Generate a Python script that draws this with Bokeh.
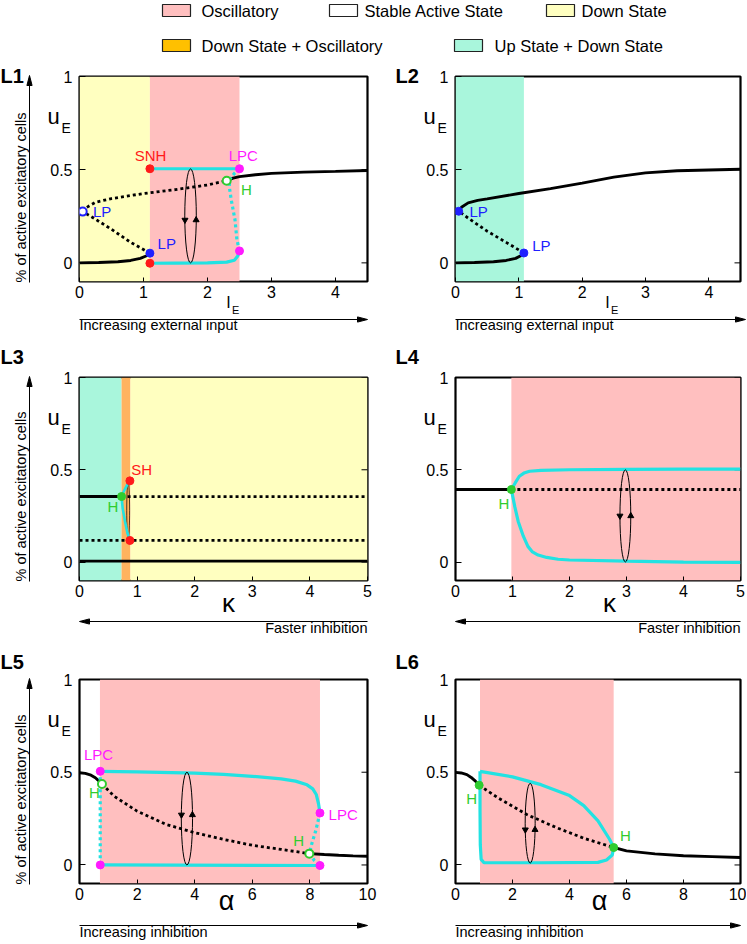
import numpy as np
from bokeh.plotting import figure
from bokeh.models import Range1d, FixedTicker, BoxAnnotation, NumeralTickFormatter
from bokeh.layouts import column, row
from bokeh.embed import file_html
from bokeh.resources import INLINE
from bokeh.core.properties import value

FONT = "Liberation Sans"
C_OSC = "#ffbfbf"
C_STABLE = "#ffffff"
C_DOWN = "#ffffc0"
C_DOWNOSC = "#ffc000"
C_UPDOWN = "#a9f6dc"
C_BAND_OR = "#ffb35f"
C_CYAN = "#22e2e2"
C_RED = "#ff1a1a"
C_MAG = "#ff1aff"
C_BLUE = "#2020ff"
C_HG = "#2fcc2f"

# ---------------- legend ----------------
legend_labels = ["Oscillatory", "Stable Active State", "Down State",
                 "Down State + Oscillatory", "Up State + Down State"]
legend_colors = [C_OSC, C_STABLE, C_DOWN, C_DOWNOSC, C_UPDOWN]

# ---------------- L1 data (I_E) ----------------
L1_xticks = [0, 1, 2, 3, 4]
L1_regions = [(0.0, 1.1, C_DOWN), (1.1, 2.5, C_OSC)]
L1_low_x = [0, 0.3, 0.6, 0.8, 0.95, 1.05, 1.1]
L1_low_y = [0.0, 0.002, 0.006, 0.013, 0.024, 0.038, 0.052]
L1_mid_x = [1.1, 0.8, 0.5, 0.2, 0.05]
L1_mid_y = [0.052, 0.11, 0.18, 0.245, 0.275]
L1_updot_x = [0.05, 0.1, 0.25, 0.5, 1.0, 1.5, 2.0, 2.3]
L1_updot_y = [0.275, 0.295, 0.325, 0.345, 0.372, 0.393, 0.418, 0.441]
L1_up_x = [2.3, 2.4, 2.5, 2.75, 3.0, 3.5, 4.0, 4.5]
L1_up_y = [0.441, 0.455, 0.463, 0.473, 0.48, 0.487, 0.491, 0.496]
L1_cyc_top_x = [1.1, 2.5]
L1_cyc_top_y = [0.505, 0.505]
L1_cyc_bot_x = [1.1, 1.5, 2.0, 2.3, 2.42, 2.47, 2.5]
L1_cyc_bot_y = [-0.002, -0.001, 0.0, 0.004, 0.014, 0.035, 0.064]
L1_cyc_dot_x = [2.5, 2.42, 2.35, 2.34, 2.37, 2.43, 2.46, 2.5]
L1_cyc_dot_y = [0.505, 0.48, 0.45, 0.41, 0.34, 0.23, 0.123, 0.064]
L1_snh_x, L1_snh_y = [1.1, 1.1], [0.505, -0.002]
L1_lpc_x, L1_lpc_y = [2.5, 2.5], [0.505, 0.064]
L1_lp_x, L1_lp_y = [1.1], [0.052]
L1_lpo_x, L1_lpo_y = [0.05], [0.275]
L1_h_x, L1_h_y = [2.3], [0.441]

# ---------------- L2 data (I_E) ----------------
L2_xticks = [0, 1, 2, 3, 4]
L2_regions = [(0.0, 1.08, C_UPDOWN)]
L2_low_x = [0, 0.3, 0.6, 0.8, 0.95, 1.03, 1.08]
L2_low_y = [0.0, 0.002, 0.006, 0.013, 0.024, 0.038, 0.053]
L2_mid_x = [1.08, 0.8, 0.5, 0.2, 0.05]
L2_mid_y = [0.053, 0.11, 0.17, 0.24, 0.277]
L2_up_x = [0.05, 0.1, 0.2, 0.35, 0.5, 1.0, 1.5, 2.0, 2.5, 3.0, 3.5, 4.0, 4.5]
L2_up_y = [0.277, 0.3, 0.322, 0.335, 0.343, 0.372, 0.398, 0.428, 0.46, 0.483, 0.494, 0.498, 0.502]
L2_lp_x, L2_lp_y = [0.05, 1.08], [0.277, 0.053]

# ---------------- L3 data (kappa) ----------------
L3_xticks = [0, 1, 2, 3, 4, 5]
L3_regions = [(0.0, 0.73, C_UPDOWN), (0.73, 0.885, C_BAND_OR), (0.885, 5.0, C_DOWN)]
L3_upsolid_x, L3_upsolid_y = [0, 0.73], [0.355, 0.355]
L3_updot_x, L3_updot_y = [0.73, 5], [0.355, 0.355]
L3_middot_x, L3_middot_y = [0, 5], [0.117, 0.117]
L3_low_x, L3_low_y = [0, 5], [0.005, 0.005]
L3_cyc_x = [0.875, 0.83, 0.78, 0.73, 0.75, 0.79, 0.83, 0.875]
L3_cyc_y = [0.44, 0.42, 0.39, 0.355, 0.29, 0.22, 0.16, 0.117]
L3_h_x, L3_h_y = [0.73], [0.355]
L3_sh_x, L3_sh_y = [0.875, 0.875], [0.44, 0.117]

# ---------------- L4 data (kappa) ----------------
L4_xticks = [0, 1, 2, 3, 4, 5]
L4_regions = [(0.98, 5.0, C_OSC)]
L4_solid_x, L4_solid_y = [0, 0.98], [0.393, 0.393]
L4_dot_x, L4_dot_y = [0.98, 5], [0.393, 0.393]
L4_cyc_top_x = [0.98, 1.05, 1.12, 1.2, 1.3, 1.5, 2.0, 3.0, 4.0, 5.0]
L4_cyc_top_y = [0.393, 0.43, 0.465, 0.482, 0.492, 0.497, 0.5, 0.502, 0.503, 0.504]
L4_cyc_bot_x = [0.98, 1.04, 1.1, 1.19, 1.27, 1.35, 1.45, 1.6, 1.8, 2.0, 3.0, 4.0, 5.0]
L4_cyc_bot_y = [0.393, 0.30, 0.22, 0.14, 0.085, 0.055, 0.038, 0.025, 0.015, 0.011, 0.005, 0.0, -0.002]
L4_h_x, L4_h_y = [0.98], [0.393]

# ---------------- L5 data (alpha) ----------------
L5_xticks = [0, 2, 4, 6, 8, 10]
L5_regions = [(0.71, 8.35, C_OSC)]
L5_s1_x = [0, 0.2, 0.4, 0.55, 0.68, 0.78]
L5_s1_y = [0.497, 0.494, 0.484, 0.47, 0.452, 0.437]
L5_dot_x = [0.78, 1.2, 2, 3, 4, 5, 6, 7, 7.98]
L5_dot_y = [0.437, 0.371, 0.29, 0.219, 0.174, 0.138, 0.106, 0.084, 0.061]
L5_s2_x = [7.98, 8.5, 9, 9.5, 10]
L5_s2_y = [0.061, 0.056, 0.052, 0.049, 0.047]
L5_cyc_top_x = [0.72, 2, 4, 5, 6, 7, 7.5, 7.9, 8.1, 8.22, 8.3, 8.35]
L5_cyc_top_y = [0.505, 0.502, 0.495, 0.488, 0.478, 0.464, 0.452, 0.432, 0.41, 0.38, 0.33, 0.28]
L5_cyc_rdot_x = [8.35, 8.2, 8.06, 7.98, 8.15, 8.35]
L5_cyc_rdot_y = [0.28, 0.183, 0.111, 0.061, 0.025, -0.003]
L5_cyc_ldot_x, L5_cyc_ldot_y = [0.72, 0.72], [0.505, 0.0]
L5_cyc_bot_x, L5_cyc_bot_y = [0.72, 8.35], [0.0, -0.003]
L5_lpc_x, L5_lpc_y = [0.72, 0.72, 8.35, 8.35], [0.505, 0.0, 0.28, -0.003]
L5_h_x, L5_h_y = [0.78, 7.98], [0.437, 0.061]

# ---------------- L6 data (alpha) ----------------
L6_xticks = [0, 2, 4, 6, 8, 10]
L6_regions = [(0.86, 5.55, C_OSC)]
L6_s1_x = [0, 0.2, 0.4, 0.55, 0.7, 0.83]
L6_s1_y = [0.499, 0.496, 0.487, 0.472, 0.452, 0.43]
L6_dot_x = [0.83, 1.5, 2.5, 3.5, 4.5, 5.55]
L6_dot_y = [0.43, 0.361, 0.272, 0.204, 0.144, 0.094]
L6_s2_x = [5.55, 6, 7, 8, 9, 10]
L6_s2_y = [0.094, 0.076, 0.06, 0.05, 0.045, 0.04]
L6_cyc_x = [0.86, 2.0, 3.0, 4.0, 4.5, 5.0, 5.4, 5.55, 5.5, 5.3, 5.0, 3.0, 1.0, 0.9, 0.87, 0.86, 0.86]
L6_cyc_y = [0.505, 0.475, 0.433, 0.374, 0.32, 0.238, 0.14, 0.094, 0.054, 0.027, 0.014, 0.012, 0.012, 0.03, 0.108, 0.3, 0.505]
L6_h_x, L6_h_y = [0.83, 5.55], [0.43, 0.094]

YR = (-0.1, 1.0)
YTICKS = [0, 0.5, 1]

# ---------------- layout geometry (pixels) ----------------
LEFT = dict(bl=79, fw=288, br=21, tag_dx=-79)
RIGHT = dict(bl=67, fw=285, br=6, tag_dx=-60)
ROW1 = dict(bt=20, fh=205, bb=57, tag_dy=6)
ROW2 = dict(bt=39, fh=203, bb=60, tag_dy=-14)
ROW3 = dict(bt=39, fh=204, bb=60, tag_dy=-11)

TAG_SHIFT = 0.35 * 15 * (YR[1] - YR[0]) / 204.0   # baseline -> middle anchor for 15px point tags
W_SOLID, W_DOT, W_CYAN = 2.9, 2.8, 3.2


def make_panel(col, rw, xr, xticks, tag, left_col, kind):
    fw, fh = col["fw"], rw["fh"]
    p = figure(width=col["bl"] + fw + col["br"], height=rw["bt"] + fh + rw["bb"],
               x_range=Range1d(*xr), y_range=Range1d(*YR),
               output_backend="svg", toolbar_location=None, tools="",
               min_border_left=col["bl"], min_border_right=col["br"],
               min_border_top=rw["bt"], min_border_bottom=rw["bb"])
    p.xgrid.visible = False
    p.ygrid.visible = False
    p.outline_line_color = "black"
    p.outline_line_width = 2.2
    p.outline_line_alpha = 1.0
    p.border_fill_color = "white"
    p.background_fill_color = "white"

    xa = p.xaxis[0]
    xa.ticker = FixedTicker(ticks=xticks)
    xa.axis_line_color = None
    xa.major_tick_in = 4
    xa.major_tick_out = 0
    xa.minor_tick_line_color = None
    xa.major_tick_line_color = "black"
    xa.major_label_text_font = FONT
    xa.major_label_text_font_size = "16px"
    xa.major_label_text_color = "black"
    xa.major_label_standoff = 4

    ya = p.yaxis[0]
    ya.ticker = FixedTicker(ticks=YTICKS)
    ya.formatter = NumeralTickFormatter(format="0.[0]")
    ya.axis_line_color = None
    ya.major_tick_in = 6
    ya.major_tick_out = 0
    ya.minor_tick_line_color = None
    ya.major_tick_line_color = "black"
    ya.major_label_text_font = FONT
    ya.major_label_text_font_size = "16px"
    ya.major_label_text_color = "black"
    ya.major_label_standoff = 7

    # inward ticks on the right edge (outer half of each dash is clipped by the frame)
    p.scatter([xr[1]] * len(YTICKS), YTICKS, marker="dash", size=12,
              line_color="black", line_width=1)

    def D(dx, dy):
        return (xr[0] + dx / fw * (xr[1] - xr[0]), YR[1] - dy / fh * (YR[1] - YR[0]))

    def lab(dx, dy, text, size, align="left", style="normal", angle=0.0, middle=False):
        dyc = dy if middle else dy - 0.35 * size   # dy given as baseline
        x, y = D(dx, dyc)
        p.text(x=[x], y=[y], text=[text], text_font=value(FONT), text_font_size=value(f"{size}px"),
               text_align=align, text_baseline="middle", text_font_style=style,
               angle=angle, text_color="black", level="overlay")

    def arr(dx0, dy0, dx1, dy1, L=10.0, W=2.6):
        ux, uy = dx1 - dx0, dy1 - dy0
        n = float(np.hypot(ux, uy))
        ux, uy = ux / n, uy / n
        bx, by = dx1 - L * ux, dy1 - L * uy
        qx, qy = -uy, ux
        x0, y0 = D(dx0, dy0)
        xb, yb = D(bx, by)
        p.line([x0, xb], [y0, yb], line_color="black", line_width=1, level="overlay")
        pts = [D(dx1, dy1), D(bx + W * qx, by + W * qy), D(bx - W * qx, by - W * qy)]
        p.patch([q[0] for q in pts], [q[1] for q in pts], fill_color="black",
                line_color="black", line_width=1, level="overlay")

    lab(col["tag_dx"], rw["tag_dy"], tag, 20, style="bold")
    lab(-32, 48, "u", 22)
    lab(-18, 56, "E", 14)
    if left_col:
        lab(-59, fh + 1, "% of active excitatory cells", 14.5, align="left",
            angle=np.pi / 2, middle=True)
        arr(-50, fh + 1, -50, -1)
    if kind == "I":
        cx = 149 if left_col else 152
        lab(cx, fh + 27, "I", 16, align="center")
        lab(cx + 3.5, fh + 32, "E", 11)
        arr(0, fh + 38, fw + (0 if left_col else 5), fh + 38)
        lab(0, fh + 49, "Increasing external input", 14.5)
    elif kind == "k":
        lab(149 if left_col else 154, fh + 32, "\u03ba", 26, align="center")
        arr(fw, fh + 41, 0, fh + 41)
        lab(fw, fh + 53, "Faster inhibition", 14.5, align="right")
    else:
        lab(147 if left_col else 144, fh + 27, "\u03b1", 27, align="center")
        arr(0, fh + 42, fw, fh + 42)
        lab(0, fh + 54, "Increasing inhibition", 14.5)
    return p


def shade(p, regions):
    for a, b, c in regions:
        p.add_layout(BoxAnnotation(left=a, right=b, fill_color=c, fill_alpha=1.0,
                                   line_color=None, level="underlay"))


def solid(p, x, y, color="black", w=W_SOLID):
    p.line(x, y, line_color=color, line_width=w)


def dotted(p, x, y, color="black", w=W_DOT):
    p.line(x, y, line_color=color, line_width=w, line_dash="3 3")


def dots(p, x, y, color, hollow=False):
    p.scatter(x, y, size=8, fill_color="white" if hollow else color,
              line_color=color, line_width=2 if hollow else 1)


def tag(p, x, y, text, color, align="center"):
    # y is the text baseline in data units
    p.text(x=[x], y=[y + TAG_SHIFT], text=[text], text_color=color, text_font=value(FONT),
           text_font_size=value("15px"), text_align=align, text_baseline="middle",
           level="overlay")


def cycle(p, cx, cy, w, h, ax, ay):
    p.ellipse(x=[cx], y=[cy], width=[w], height=[h], fill_color=None,
              line_color="black", line_width=1)
    p.scatter(ax, ay, marker="triangle", size=6, angle=[np.pi, 0.0],
              fill_color="black", line_color="black")


# ---------------- L1 ----------------
p1 = make_panel(LEFT, ROW1, (0, 4.5), L1_xticks, "L1", True, "I")
shade(p1, L1_regions)
solid(p1, L1_low_x, L1_low_y)
dotted(p1, L1_mid_x, L1_mid_y)
dotted(p1, L1_updot_x, L1_updot_y)
solid(p1, L1_up_x, L1_up_y)
solid(p1, L1_cyc_top_x, L1_cyc_top_y, C_CYAN, W_CYAN)
solid(p1, L1_cyc_bot_x, L1_cyc_bot_y, C_CYAN, W_CYAN)
dotted(p1, L1_cyc_dot_x, L1_cyc_dot_y, C_CYAN, W_CYAN)
cycle(p1, 1.735, 0.252, 0.18, 0.505, [1.648, 1.822], [0.23, 0.23])
dots(p1, L1_snh_x, L1_snh_y, C_RED)
dots(p1, L1_lpc_x, L1_lpc_y, C_MAG)
dots(p1, L1_lp_x, L1_lp_y, C_BLUE)
dots(p1, L1_lpo_x, L1_lpo_y, C_BLUE, hollow=True)
dots(p1, L1_h_x, L1_h_y, C_HG, hollow=True)
tag(p1, 1.11, 0.55, "SNH", C_RED)
tag(p1, 2.56, 0.55, "LPC", C_MAG)
tag(p1, 2.61, 0.364, "H", C_HG)
tag(p1, 0.21, 0.248, "LP", C_BLUE, "left")
tag(p1, 1.22, 0.074, "LP", C_BLUE, "left")

# ---------------- L2 ----------------
p2 = make_panel(RIGHT, ROW1, (0, 4.5), L2_xticks, "L2", False, "I")
shade(p2, L2_regions)
solid(p2, L2_low_x, L2_low_y)
dotted(p2, L2_mid_x, L2_mid_y)
solid(p2, L2_up_x, L2_up_y)
dots(p2, L2_lp_x, L2_lp_y, C_BLUE)
tag(p2, 0.22, 0.246, "LP", C_BLUE, "left")
tag(p2, 1.21, 0.065, "LP", C_BLUE, "left")

# ---------------- L3 ----------------
p3 = make_panel(LEFT, ROW2, (0, 5), L3_xticks, "L3", True, "k")
shade(p3, L3_regions)
solid(p3, L3_upsolid_x, L3_upsolid_y)
dotted(p3, L3_updot_x, L3_updot_y)
dotted(p3, L3_middot_x, L3_middot_y)
solid(p3, L3_low_x, L3_low_y)
p3.ellipse(x=[0.845], y=[0.28], width=[0.05], height=[0.3], fill_color=None,
           line_color="black", line_width=0.7)
solid(p3, L3_cyc_x, L3_cyc_y, C_CYAN, 2.6)
dots(p3, L3_h_x, L3_h_y, C_HG)
dots(p3, L3_sh_x, L3_sh_y, C_RED)
tag(p3, 0.9, 0.473, "SH", C_RED, "left")
tag(p3, 0.58, 0.27, "H", C_HG)

# ---------------- L4 ----------------
p4 = make_panel(RIGHT, ROW2, (0, 5), L4_xticks, "L4", False, "k")
shade(p4, L4_regions)
solid(p4, L4_solid_x, L4_solid_y)
dotted(p4, L4_dot_x, L4_dot_y)
solid(p4, L4_cyc_top_x, L4_cyc_top_y, C_CYAN, W_CYAN)
solid(p4, L4_cyc_bot_x, L4_cyc_bot_y, C_CYAN, W_CYAN)
cycle(p4, 2.98, 0.25, 0.19, 0.5, [2.885, 3.075], [0.25, 0.25])
dots(p4, L4_h_x, L4_h_y, C_HG)
tag(p4, 0.85, 0.29, "H", C_HG)

# ---------------- L5 ----------------
p5 = make_panel(LEFT, ROW3, (0, 10), L5_xticks, "L5", True, "a")
shade(p5, L5_regions)
solid(p5, L5_s1_x, L5_s1_y)
dotted(p5, L5_dot_x, L5_dot_y)
solid(p5, L5_s2_x, L5_s2_y)
solid(p5, L5_cyc_top_x, L5_cyc_top_y, C_CYAN, W_CYAN)
solid(p5, L5_cyc_bot_x, L5_cyc_bot_y, C_CYAN, W_CYAN)
dotted(p5, L5_cyc_rdot_x, L5_cyc_rdot_y, C_CYAN, W_CYAN)
dotted(p5, L5_cyc_ldot_x, L5_cyc_ldot_y, C_CYAN, W_CYAN)
cycle(p5, 3.73, 0.25, 0.39, 0.5, [3.54, 3.92], [0.27, 0.27])
dots(p5, L5_lpc_x, L5_lpc_y, C_MAG)
dots(p5, L5_h_x, L5_h_y, C_HG, hollow=True)
tag(p5, 0.66, 0.565, "LPC", C_MAG)
tag(p5, 0.52, 0.362, "H", C_HG)
tag(p5, 8.65, 0.246, "LPC", C_MAG, "left")
tag(p5, 7.61, 0.102, "H", C_HG)

# ---------------- L6 ----------------
p6 = make_panel(RIGHT, ROW3, (0, 10), L6_xticks, "L6", False, "a")
shade(p6, L6_regions)
solid(p6, L6_s1_x, L6_s1_y)
dotted(p6, L6_dot_x, L6_dot_y)
solid(p6, L6_s2_x, L6_s2_y)
solid(p6, L6_cyc_x, L6_cyc_y, C_CYAN, W_CYAN)
cycle(p6, 2.62, 0.225, 0.35, 0.43, [2.45, 2.79], [0.19, 0.19])
dots(p6, L6_h_x, L6_h_y, C_HG)
tag(p6, 0.57, 0.329, "H", C_HG)
tag(p6, 5.96, 0.13, "H", C_HG)

# ---------------- legend figure ----------------
LW, LH = 746, 56
lg = figure(width=LW, height=LH, x_range=Range1d(0, LW), y_range=Range1d(LH, 0),
            output_backend="svg", toolbar_location=None, tools="",
            x_axis_type=None, y_axis_type=None, min_border=0)
lg.outline_line_color = None
lg.xgrid.visible = False
lg.ygrid.visible = False
leg_sw_left = [162, 329, 546, 162, 454]
leg_text_x = [201, 364, 581, 201, 494]
leg_row_y = [10, 10, 10, 45, 45]
lg.quad(left=leg_sw_left, right=[v + 28 for v in leg_sw_left],
        top=[v - 6 for v in leg_row_y], bottom=[v + 6 for v in leg_row_y],
        fill_color=legend_colors, line_color="#222222", line_width=1.2)
lg.text(x=leg_text_x, y=leg_row_y, text=legend_labels, text_font=value(FONT),
        text_font_size=value("16.5px"), text_align="left", text_baseline="middle",
        text_color="black")

layout = column(lg, row(p1, p2), row(p3, p4), row(p5, p6))
open("out.html", "w").write(file_html(layout, INLINE))
